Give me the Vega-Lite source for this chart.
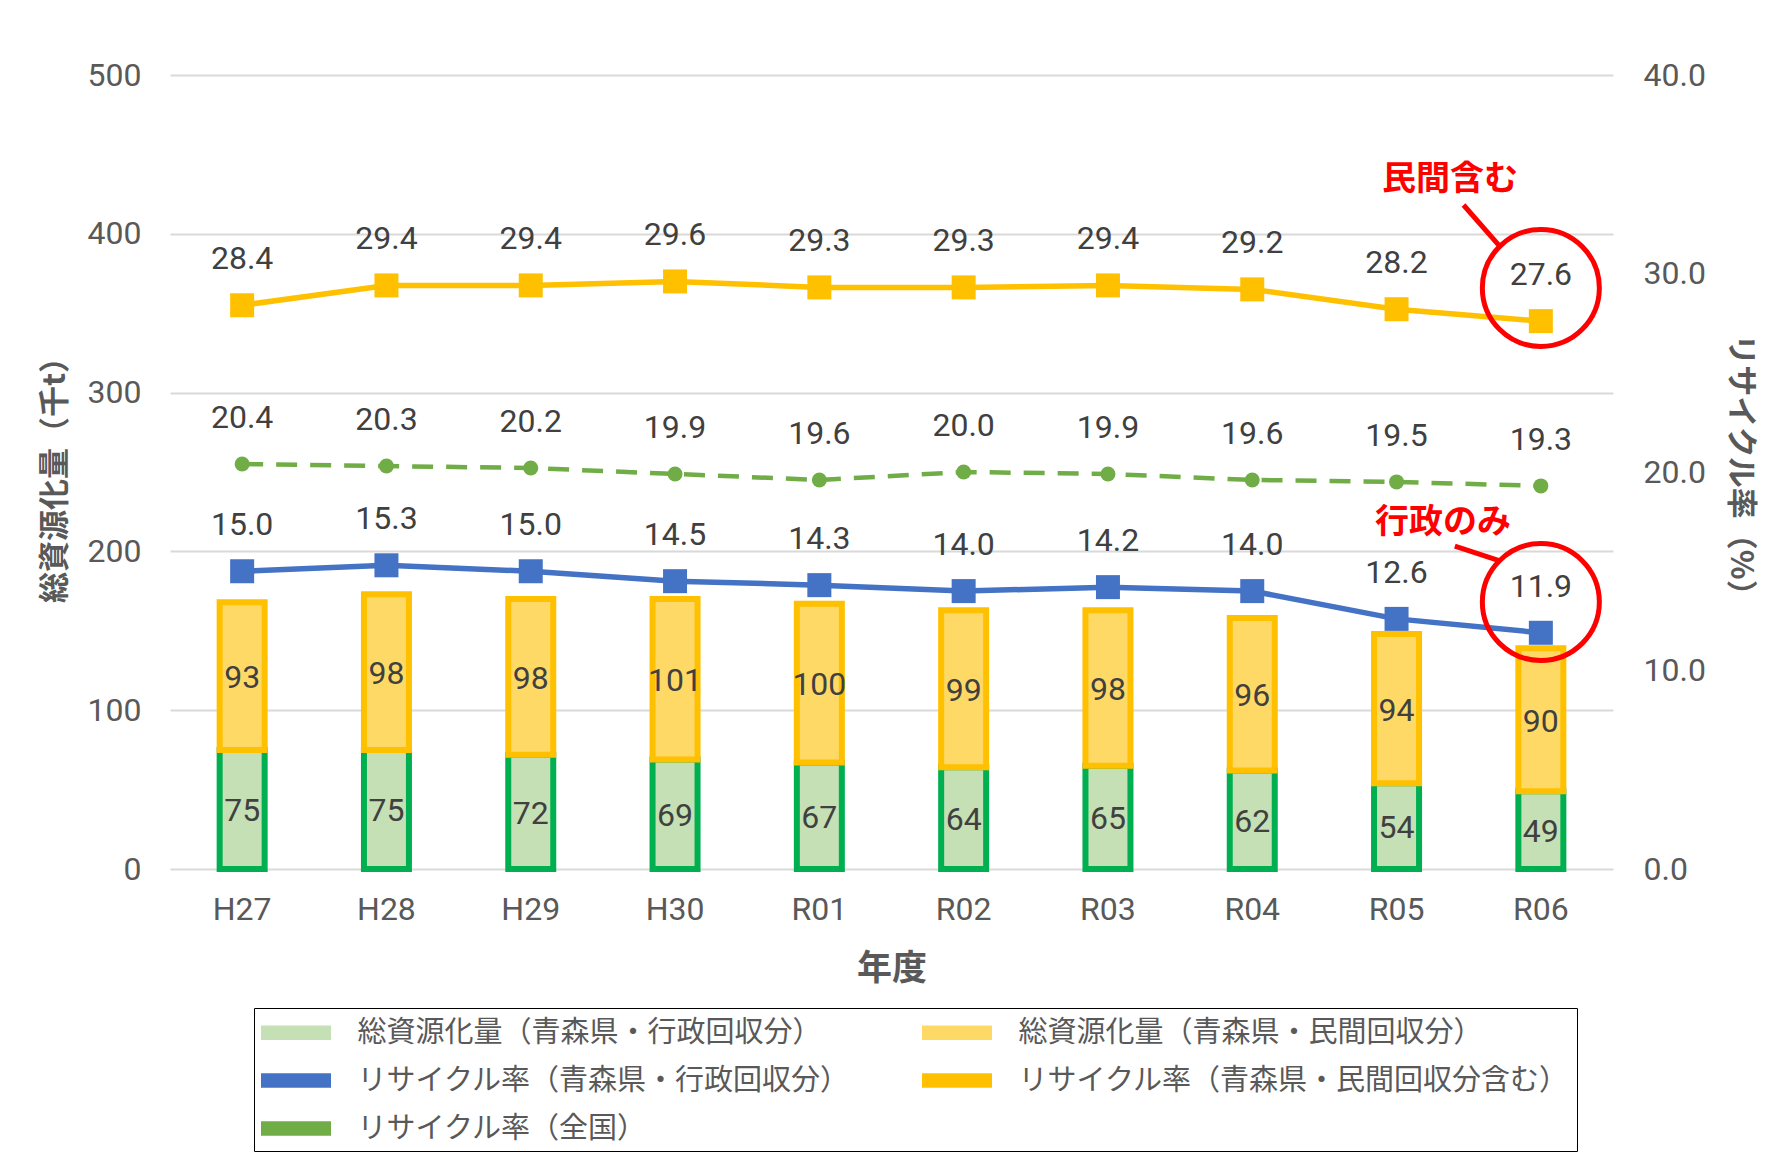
{
  "$schema": "https://vega.github.io/schema/vega-lite/v6.json",
  "width": 1443,
  "height": 794,
  "autosize": {"type": "none"},
  "padding": {"left": 170, "top": 75, "right": 153, "bottom": 306},
  "background": "#ffffff",
  "config": {"view": {"stroke": null}},
  "datasets": {
    "bars": [
      {"year": "H27", "idx": 0, "series": "総資源化量（青森県・行政回収分）", "order": 1, "value": 75},
      {"year": "H28", "idx": 1, "series": "総資源化量（青森県・行政回収分）", "order": 1, "value": 75},
      {"year": "H29", "idx": 2, "series": "総資源化量（青森県・行政回収分）", "order": 1, "value": 72},
      {"year": "H30", "idx": 3, "series": "総資源化量（青森県・行政回収分）", "order": 1, "value": 69},
      {"year": "R01", "idx": 4, "series": "総資源化量（青森県・行政回収分）", "order": 1, "value": 67},
      {"year": "R02", "idx": 5, "series": "総資源化量（青森県・行政回収分）", "order": 1, "value": 64},
      {"year": "R03", "idx": 6, "series": "総資源化量（青森県・行政回収分）", "order": 1, "value": 65},
      {"year": "R04", "idx": 7, "series": "総資源化量（青森県・行政回収分）", "order": 1, "value": 62},
      {"year": "R05", "idx": 8, "series": "総資源化量（青森県・行政回収分）", "order": 1, "value": 54},
      {"year": "R06", "idx": 9, "series": "総資源化量（青森県・行政回収分）", "order": 1, "value": 49},
      {"year": "H27", "idx": 0, "series": "総資源化量（青森県・民間回収分）", "order": 2, "value": 93},
      {"year": "H28", "idx": 1, "series": "総資源化量（青森県・民間回収分）", "order": 2, "value": 98},
      {"year": "H29", "idx": 2, "series": "総資源化量（青森県・民間回収分）", "order": 2, "value": 98},
      {"year": "H30", "idx": 3, "series": "総資源化量（青森県・民間回収分）", "order": 2, "value": 101},
      {"year": "R01", "idx": 4, "series": "総資源化量（青森県・民間回収分）", "order": 2, "value": 100},
      {"year": "R02", "idx": 5, "series": "総資源化量（青森県・民間回収分）", "order": 2, "value": 99},
      {"year": "R03", "idx": 6, "series": "総資源化量（青森県・民間回収分）", "order": 2, "value": 98},
      {"year": "R04", "idx": 7, "series": "総資源化量（青森県・民間回収分）", "order": 2, "value": 96},
      {"year": "R05", "idx": 8, "series": "総資源化量（青森県・民間回収分）", "order": 2, "value": 94},
      {"year": "R06", "idx": 9, "series": "総資源化量（青森県・民間回収分）", "order": 2, "value": 90}
    ],
    "rates": [
      {"year": "H27", "idx": 0, "series": "リサイクル率（青森県・行政回収分）", "value": 15.0},
      {"year": "H28", "idx": 1, "series": "リサイクル率（青森県・行政回収分）", "value": 15.3},
      {"year": "H29", "idx": 2, "series": "リサイクル率（青森県・行政回収分）", "value": 15.0},
      {"year": "H30", "idx": 3, "series": "リサイクル率（青森県・行政回収分）", "value": 14.5},
      {"year": "R01", "idx": 4, "series": "リサイクル率（青森県・行政回収分）", "value": 14.3},
      {"year": "R02", "idx": 5, "series": "リサイクル率（青森県・行政回収分）", "value": 14.0},
      {"year": "R03", "idx": 6, "series": "リサイクル率（青森県・行政回収分）", "value": 14.2},
      {"year": "R04", "idx": 7, "series": "リサイクル率（青森県・行政回収分）", "value": 14.0},
      {"year": "R05", "idx": 8, "series": "リサイクル率（青森県・行政回収分）", "value": 12.6},
      {"year": "R06", "idx": 9, "series": "リサイクル率（青森県・行政回収分）", "value": 11.9},
      {"year": "H27", "idx": 0, "series": "リサイクル率（青森県・民間回収分含む）", "value": 28.4},
      {"year": "H28", "idx": 1, "series": "リサイクル率（青森県・民間回収分含む）", "value": 29.4},
      {"year": "H29", "idx": 2, "series": "リサイクル率（青森県・民間回収分含む）", "value": 29.4},
      {"year": "H30", "idx": 3, "series": "リサイクル率（青森県・民間回収分含む）", "value": 29.6},
      {"year": "R01", "idx": 4, "series": "リサイクル率（青森県・民間回収分含む）", "value": 29.3},
      {"year": "R02", "idx": 5, "series": "リサイクル率（青森県・民間回収分含む）", "value": 29.3},
      {"year": "R03", "idx": 6, "series": "リサイクル率（青森県・民間回収分含む）", "value": 29.4},
      {"year": "R04", "idx": 7, "series": "リサイクル率（青森県・民間回収分含む）", "value": 29.2},
      {"year": "R05", "idx": 8, "series": "リサイクル率（青森県・民間回収分含む）", "value": 28.2},
      {"year": "R06", "idx": 9, "series": "リサイクル率（青森県・民間回収分含む）", "value": 27.6},
      {"year": "H27", "idx": 0, "series": "リサイクル率（全国）", "value": 20.4},
      {"year": "H28", "idx": 1, "series": "リサイクル率（全国）", "value": 20.3},
      {"year": "H29", "idx": 2, "series": "リサイクル率（全国）", "value": 20.2},
      {"year": "H30", "idx": 3, "series": "リサイクル率（全国）", "value": 19.9},
      {"year": "R01", "idx": 4, "series": "リサイクル率（全国）", "value": 19.6},
      {"year": "R02", "idx": 5, "series": "リサイクル率（全国）", "value": 20.0},
      {"year": "R03", "idx": 6, "series": "リサイクル率（全国）", "value": 19.9},
      {"year": "R04", "idx": 7, "series": "リサイクル率（全国）", "value": 19.6},
      {"year": "R05", "idx": 8, "series": "リサイクル率（全国）", "value": 19.5},
      {"year": "R06", "idx": 9, "series": "リサイクル率（全国）", "value": 19.3}
    ],
    "circles": [
      {"idx": 9, "value": 29.27},
      {"idx": 9, "value": 13.45}
    ],
    "connectors": [
      {"cid": 1, "idx": 8.464, "value": 33.45},
      {"cid": 1, "idx": 8.713, "value": 31.39},
      {"cid": 2, "idx": 8.404, "value": 16.27},
      {"cid": 2, "idx": 8.716, "value": 15.52}
    ],
    "notes": [
      {"idx": 8.37, "value": 34.71, "note": "民間含む"},
      {"idx": 8.322, "value": 17.43, "note": "行政のみ"}
    ]
  },
  "layer": [
    {
      "data": {"name": "bars"},
      "mark": {"type": "bar", "width": 45, "strokeWidth": 6},
      "encoding": {
        "x": {"field": "year", "type": "nominal", "sort": null, "scale": {"paddingInner": 0, "paddingOuter": 0},
          "axis": {"title": "年度", "labelAngle": 0, "labelPadding": 25, "labelFont": "Roboto", "labelFontSize": 32, "labelColor": "#595959", "domain": false, "ticks": false, "grid": false, "titleFont": "Noto Sans CJK JP", "titleFontSize": 35, "titleFontWeight": "bold", "titleColor": "#595959", "titlePadding": 26}},
        "y": {"field": "value", "type": "quantitative", "stack": "zero", "scale": {"domain": [0, 500], "nice": false},
          "axis": {"tickCount": 5, "grid": true, "gridColor": "#D9D9D9", "gridWidth": 2, "domain": false, "ticks": false, "labelPadding": 29, "labelFont": "Roboto", "labelFontSize": 32, "labelColor": "#595959",
            "title": "総資源化量（千t）", "titleFont": "Noto Sans CJK JP", "titleFontSize": 31, "titleFontWeight": "bold", "titleColor": "#595959", "titlePadding": 16}},
        "order": {"field": "order", "type": "quantitative"},
        "fill": {"field": "series", "type": "nominal",
          "scale": {"domain": ["総資源化量（青森県・行政回収分）", "総資源化量（青森県・民間回収分）", "リサイクル率（青森県・行政回収分）", "リサイクル率（青森県・民間回収分含む）", "リサイクル率（全国）"], "range": ["#C5E0B4", "#FFD966", "#4472C4", "#FFC000", "#70AD47"]},
          "legend": {
            "title": null, "orient": "none", "legendX": 84, "legendY": 933, "direction": "horizontal", "columns": 2,
            "columnPadding": 71, "rowPadding": 15, "padding": 7, "strokeColor": "#000000",
            "symbolType": "M-2,-0.42H2V0.42H-2Z", "symbolSize": 1225, "symbolStrokeWidth": 0, "symbolOffset": 17.5, "labelOffset": 44,
            "labelFont": "Noto Sans CJK JP", "labelFontSize": 29, "labelColor": "#595959", "labelLimit": 1000
          }},
        "stroke": {"field": "series", "type": "nominal",
          "scale": {"domain": ["総資源化量（青森県・行政回収分）", "総資源化量（青森県・民間回収分）", "リサイクル率（青森県・行政回収分）", "リサイクル率（青森県・民間回収分含む）", "リサイクル率（全国）"], "range": ["#00B050", "#FFC000", "#4472C4", "#FFC000", "#70AD47"]},
          "legend": null}
      }
    },
    {
      "data": {"name": "bars"},
      "mark": {"type": "text", "font": "Roboto", "fontSize": 32, "color": "#404040", "baseline": "middle", "dy": 2},
      "encoding": {
        "x": {"field": "idx", "type": "quantitative", "scale": {"domain": [-0.5, 9.5], "nice": false, "zero": false}, "axis": null},
        "y": {"field": "value", "type": "quantitative", "stack": "zero", "bandPosition": 0.5, "scale": {"domain": [0, 500], "nice": false}, "axis": null},
        "order": {"field": "order", "type": "quantitative"},
        "text": {"field": "value", "type": "quantitative"}
      }
    },
    {
      "data": {"name": "rates"},
      "transform": [{"filter": "datum.series !== 'リサイクル率（全国）'"}],
      "mark": {"type": "line", "strokeWidth": 5.5},
      "encoding": {
        "x": {"field": "idx", "type": "quantitative", "scale": {"domain": [-0.5, 9.5], "nice": false, "zero": false}, "axis": null},
        "y": {"field": "value", "type": "quantitative", "scale": {"domain": [0, 40], "nice": false},
          "axis": {"orient": "right", "tickCount": 4, "grid": false, "domain": false, "ticks": false, "format": ".1f", "labelPadding": 30, "labelFont": "Roboto", "labelFontSize": 32, "labelColor": "#595959",
            "title": "リサイクル率（%）", "titleFont": "Noto Sans CJK JP", "titleFontSize": 31, "titleFontWeight": "bold", "titleColor": "#595959", "titlePadding": 18}},
        "stroke": {"field": "series", "type": "nominal", "legend": null}
      }
    },
    {
      "data": {"name": "rates"},
      "transform": [{"filter": "datum.series === 'リサイクル率（全国）'"}],
      "mark": {"type": "line", "strokeWidth": 4.5, "strokeDash": [21, 13]},
      "encoding": {
        "x": {"field": "idx", "type": "quantitative", "scale": {"domain": [-0.5, 9.5], "nice": false, "zero": false}, "axis": null},
        "y": {"field": "value", "type": "quantitative", "scale": {"domain": [0, 40], "nice": false}, "axis": null},
        "stroke": {"field": "series", "type": "nominal", "legend": null}
      }
    },
    {
      "data": {"name": "rates"},
      "transform": [{"filter": "datum.series !== 'リサイクル率（全国）'"}],
      "mark": {"type": "square", "size": 576, "opacity": 1},
      "encoding": {
        "x": {"field": "idx", "type": "quantitative", "scale": {"domain": [-0.5, 9.5], "nice": false, "zero": false}, "axis": null},
        "y": {"field": "value", "type": "quantitative", "scale": {"domain": [0, 40], "nice": false}, "axis": null},
        "fill": {"field": "series", "type": "nominal", "legend": null}
      }
    },
    {
      "data": {"name": "rates"},
      "transform": [{"filter": "datum.series === 'リサイクル率（全国）'"}],
      "mark": {"type": "circle", "size": 225, "opacity": 1},
      "encoding": {
        "x": {"field": "idx", "type": "quantitative", "scale": {"domain": [-0.5, 9.5], "nice": false, "zero": false}, "axis": null},
        "y": {"field": "value", "type": "quantitative", "scale": {"domain": [0, 40], "nice": false}, "axis": null},
        "fill": {"field": "series", "type": "nominal", "legend": null}
      }
    },
    {
      "data": {"name": "rates"},
      "mark": {"type": "text", "font": "Roboto", "fontSize": 32, "color": "#404040", "baseline": "middle", "dy": -46},
      "encoding": {
        "x": {"field": "idx", "type": "quantitative", "scale": {"domain": [-0.5, 9.5], "nice": false, "zero": false}, "axis": null},
        "y": {"field": "value", "type": "quantitative", "scale": {"domain": [0, 40], "nice": false}, "axis": null},
        "text": {"field": "value", "type": "quantitative", "format": ".1f"}
      }
    },
    {
      "data": {"name": "circles"},
      "mark": {"type": "point", "shape": "circle", "filled": false, "size": 13689, "stroke": "#FF0000", "strokeWidth": 5, "opacity": 1},
      "encoding": {
        "x": {"field": "idx", "type": "quantitative", "scale": {"domain": [-0.5, 9.5], "nice": false, "zero": false}, "axis": null},
        "y": {"field": "value", "type": "quantitative", "scale": {"domain": [0, 40], "nice": false}, "axis": null}
      }
    },
    {
      "data": {"name": "connectors"},
      "mark": {"type": "line", "stroke": "#FF0000", "strokeWidth": 5},
      "encoding": {
        "x": {"field": "idx", "type": "quantitative", "scale": {"domain": [-0.5, 9.5], "nice": false, "zero": false}, "axis": null},
        "y": {"field": "value", "type": "quantitative", "scale": {"domain": [0, 40], "nice": false}, "axis": null},
        "detail": {"field": "cid", "type": "nominal"}
      }
    },
    {
      "data": {"name": "notes"},
      "mark": {"type": "text", "font": "Noto Sans CJK JP", "fontSize": 34, "fontWeight": "bold", "color": "#FF0000", "baseline": "middle", "align": "center"},
      "encoding": {
        "x": {"field": "idx", "type": "quantitative", "scale": {"domain": [-0.5, 9.5], "nice": false, "zero": false}, "axis": null},
        "y": {"field": "value", "type": "quantitative", "scale": {"domain": [0, 40], "nice": false}, "axis": null},
        "text": {"field": "note", "type": "nominal"}
      }
    }
  ],
  "resolve": {"scale": {"x": "independent", "y": "independent"}}
}
